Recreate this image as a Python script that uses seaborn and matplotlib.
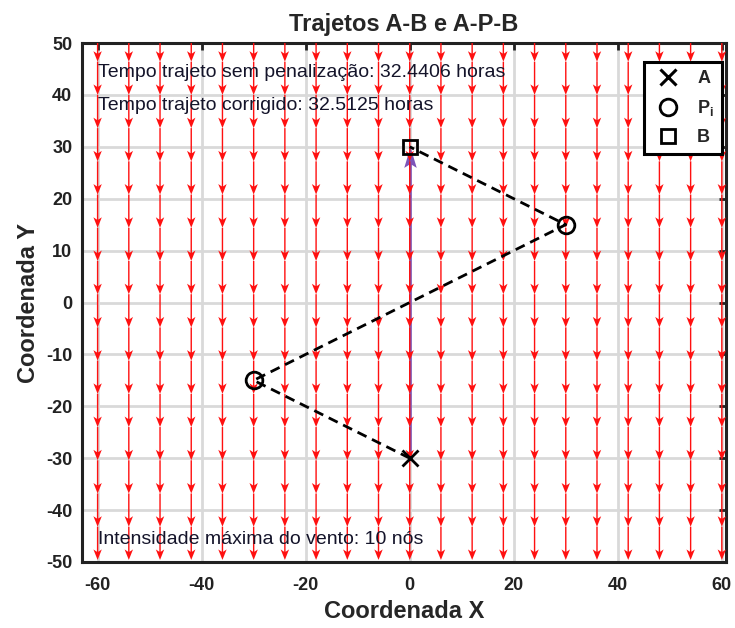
import numpy as np
import pandas as pd
import matplotlib
matplotlib.use("Agg")
import matplotlib.pyplot as plt
from matplotlib.lines import Line2D
import seaborn as sns

# ---------------- data ----------------
wind_x_cols = [-60, -54, -48, -42, -36, -30, -24, -18, -12, -6, 0,
               6, 12, 18, 24, 30, 36, 42, 48, 54, 60]
wind_y_rows = [52.8, 46.4, 40.0, 33.6, 27.2, 20.8, 14.4, 8.0, 1.6,
               -4.8, -11.2, -17.6, -24.0, -30.4, -36.8, -43.2]
wind_u = 0.0          # nós (componente X)
wind_v = -10.0        # nós (componente Y) -> intensidade máxima 10 nós

path_labels = ["A", "P1", "P2", "B"]
path_x = [0, -30, 30, 0]
path_y = [-30, -15, 15, 30]

direct_x = [0]
direct_y = [-30]
direct_u = [0]
direct_v = [60]

title = "Trajetos A-B e A-P-B"
xlabel = "Coordenada X"
ylabel = "Coordenada Y"
text_lines = ["Tempo trajeto sem penalização: 32.4406 horas",
              "Tempo trajeto corrigido: 32.5125 horas",
              "Intensidade máxima do vento: 10 nós"]
legend_labels = ["A", r"P$_\mathregular{i}$", "B"]
xticks = [-60, -40, -20, 0, 20, 40, 60]
yticks = [-50, -40, -30, -20, -10, 0, 10, 20, 30, 40, 50]

# ---------------- style ----------------
sns.set_style("white")
plt.rcParams["font.family"] = ["Liberation Sans", "DejaVu Sans"]
plt.rcParams["axes.unicode_minus"] = False
plt.rcParams["mathtext.fontset"] = "custom"
plt.rcParams["mathtext.rm"] = "Liberation Sans:bold"
plt.rcParams["mathtext.it"] = "Liberation Sans:bold"
plt.rcParams["mathtext.bf"] = "Liberation Sans:bold"

fig = plt.figure(figsize=(7.35, 6.28), dpi=100)
ax = fig.add_axes([82 / 735, 66 / 628, 644 / 735, 519 / 628])

# grid
ax.set_xticks(xticks)
ax.set_yticks(yticks)
ax.grid(True, color="#d9d9d9", linewidth=2.0, zorder=0)
ax.set_axisbelow(True)

# wind field
X, Y = np.meshgrid(wind_x_cols, wind_y_rows)
U = np.full(X.shape, wind_u)
V = np.full(X.shape, wind_v)
ax.quiver(X, Y, U, V, color="#ff1010", angles="xy", scale_units="xy",
          scale=10 / 6.4, units="dots", width=1.4, headwidth=6.0,
          headlength=7.5, headaxislength=5.8, zorder=3)

# direct route A -> B
ax.quiver(direct_x, direct_y, direct_u, direct_v, color="#7d55b8",
          angles="xy", scale_units="xy", scale=1, units="dots", width=2.6,
          headwidth=4.8, headlength=8, headaxislength=6.8, zorder=2)

# path A-P-B
df = pd.DataFrame({"x": path_x, "y": path_y, "pt": path_labels})
sns.lineplot(data=df, x="x", y="y", sort=False, estimator=None, ax=ax,
             color="black", linewidth=2.0, dashes=False, legend=False,
             zorder=4)
ax.lines[-1].set_dashes((3.6, 2.2))

# markers
ax.plot(path_x[0], path_y[0], "x", color="black", ms=11, mew=2, zorder=5)
ax.plot(path_x[1:3], path_y[1:3], "o", mfc="none", mec="black", ms=12,
        mew=2, zorder=5)
ax.plot(path_x[3], path_y[3], "s", mfc="none", mec="black", ms=10,
        mew=2, zorder=5)

ax.set_xlim(-63, 60.8)
ax.set_ylim(-50, 50)

# texts
ax.text(-60, 44.4, text_lines[0], fontsize=14, color="#14142a", va="center",
        ha="left", zorder=6)
ax.text(-60, 37.9, text_lines[1], fontsize=14, color="#14142a", va="center",
        ha="left", zorder=6)
ax.text(-60, -45.6, text_lines[2], fontsize=14, color="#14142a", va="center",
        ha="left", zorder=6)

# legend
handles = [
    Line2D([], [], linestyle="none", marker="x", color="black", ms=11, mew=2.2),
    Line2D([], [], linestyle="none", marker="o", mfc="none", mec="black",
           ms=12, mew=2),
    Line2D([], [], linestyle="none", marker="s", mfc="none", mec="black",
           ms=10, mew=2),
]
leg = ax.legend(handles, legend_labels, loc="upper right",
                bbox_to_anchor=(0.994, 0.963), borderaxespad=0,
                fancybox=False, framealpha=1, edgecolor="black",
                prop={"size": 13, "weight": "bold"}, handlelength=1.8,
                handletextpad=0.7, borderpad=0.45, labelspacing=0.6)
leg.get_frame().set_linewidth(2.2)
leg.set_zorder(10)

# axes styling
for s in ax.spines.values():
    s.set_visible(True)
    s.set_color("#222222")
    s.set_linewidth(2.2)
ax.tick_params(direction="in", length=5, width=2, top=True, right=True,
               color="#222222", labelsize=13)
ax.tick_params(axis="x", pad=11)
ax.tick_params(axis="y", pad=7)
for lab in ax.get_xticklabels() + ax.get_yticklabels():
    lab.set_fontweight("bold")
    lab.set_color("#222222")

ax.set_title(title, fontsize=17, fontweight="bold", pad=9)
ax.set_xlabel(xlabel, fontsize=17, fontweight="bold", labelpad=4)
ax.set_ylabel(ylabel, fontsize=17, fontweight="bold", labelpad=4)

fig.savefig("out.png", dpi=100)
